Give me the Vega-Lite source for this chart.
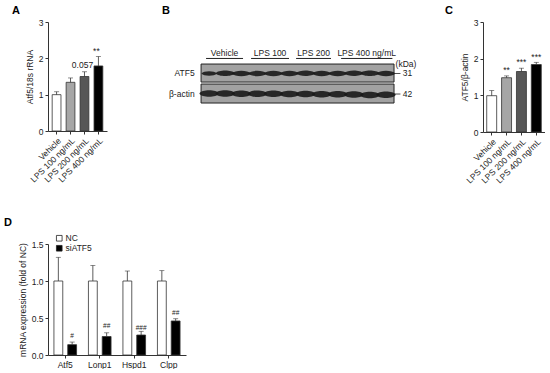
{
  "$schema": "https://vega.github.io/schema/vega-lite/v6.json",
  "padding": {"left": 4, "top": 5, "right": 0, "bottom": 0},
  "config": {
    "font": "Liberation Sans",
    "view": {"stroke": null},
    "axis": {"domainColor": "#333", "tickColor": "#333", "labelColor": "#222", "titleColor": "#222", "labelFontSize": 8.5, "titleFontSize": 8.5, "titleFontWeight": "normal", "grid": false, "tickSize": 3, "labelPadding": 2, "titlePadding": 4},
    "title": {"fontSize": 11, "fontWeight": "bold", "color": "#000", "anchor": "start", "frame": "group"}
  },
  "align": "none",
  "spacing": 32,
  "resolve": {"scale": {"fill": "independent", "size": "independent", "shape": "independent"}, "legend": {"fill": "independent"}},
  "vconcat": [
    {
      "spacing": 5,
      "resolve": {"scale": {"fill": "independent", "size": "independent", "shape": "independent"}, "legend": {"fill": "independent"}},
      "hconcat": [
        {
          "width": 59, "height": 109,
          "title": {"text": "A", "dx": -36, "offset": 2},
          "data": {"values": [
            {"cond": "Vehicle", "v": 1.0, "up": 1.08, "ann": "", "ay": 1.1},
            {"cond": "LPS 100 ng/mL", "v": 1.34, "up": 1.46, "ann": "", "ay": 1.5},
            {"cond": "LPS 200 ng/mL", "v": 1.5, "up": 1.63, "ann": "0.057", "ay": 1.67},
            {"cond": "LPS 400 ng/mL", "v": 1.79, "up": 2.05, "ann": "**", "ay": 2.06}
          ]},
          "encoding": {"x": {"field": "cond", "type": "nominal", "sort": null, "scale": {"paddingInner": 0.37, "paddingOuter": 0.3}, "axis": {"title": null, "labelAngle": -45, "labelFontSize": 8.5}}},
          "layer": [
            {"mark": {"type": "bar", "stroke": "#333", "strokeWidth": 0.8},
             "encoding": {"y": {"field": "v", "type": "quantitative", "title": "Atf5/18s rRNA", "scale": {"domain": [0, 3]}, "axis": {"values": [0, 1, 2, 3]}},
                          "fill": {"field": "cond", "type": "nominal", "scale": {"domain": ["Vehicle", "LPS 100 ng/mL", "LPS 200 ng/mL", "LPS 400 ng/mL"], "range": ["#ffffff", "#a6a6a6", "#575757", "#000000"]}, "legend": null}}},
            {"mark": {"type": "rule", "color": "#333", "strokeWidth": 0.8},
             "encoding": {"y": {"field": "v", "type": "quantitative", "title": "Atf5/18s rRNA", "scale": {"domain": [0, 3]}, "axis": {"values": [0, 1, 2, 3]}}, "y2": {"field": "up"}}},
            {"mark": {"type": "tick", "color": "#333", "size": 5, "thickness": 0.8},
             "encoding": {"y": {"field": "up", "type": "quantitative", "title": "Atf5/18s rRNA", "scale": {"domain": [0, 3]}, "axis": {"values": [0, 1, 2, 3]}}}},
            {"mark": {"type": "text", "baseline": "bottom", "fontSize": 8.5, "color": "#222", "dx": -2},
             "encoding": {"y": {"field": "ay", "type": "quantitative", "title": "Atf5/18s rRNA", "scale": {"domain": [0, 3]}, "axis": {"values": [0, 1, 2, 3]}}, "text": {"field": "ann"}}}
          ]
        },
        {
          "width": 328, "height": 84,
          "title": {"text": "B", "dx": 50, "offset": 6},
          "encoding": {
            "x": {"field": "x", "type": "quantitative", "scale": {"domain": [-5.54, 14.86], "nice": false, "zero": false}, "axis": null},
            "y": {"field": "y", "type": "quantitative", "scale": {"domain": [0, 9.33], "reverse": true, "nice": false, "zero": false}, "axis": null}
          },
          "layer": [
            {"data": {"values": [
              {"x": 0, "x2": 12, "y": 4.67, "y2": 6.67},
              {"x": 0, "x2": 12, "y": 6.89, "y2": 9.0}
            ]},
             "mark": {"type": "rect", "fill": "#a2a2a2", "stroke": "#222", "strokeWidth": 1},
             "encoding": {"x2": {"field": "x2"}, "y2": {"field": "y2"}}},
            {"data": {"values": [
              {"protein": "ATF5", "x": 0.5, "y": 5.72, "s": 0.6},
              {"protein": "ATF5", "x": 1.5, "y": 5.7, "s": 0.95},
              {"protein": "ATF5", "x": 2.5, "y": 5.72, "s": 0.9},
              {"protein": "ATF5", "x": 3.5, "y": 5.72, "s": 0.85},
              {"protein": "ATF5", "x": 4.5, "y": 5.72, "s": 0.88},
              {"protein": "ATF5", "x": 5.5, "y": 5.72, "s": 0.85},
              {"protein": "ATF5", "x": 6.5, "y": 5.7, "s": 0.92},
              {"protein": "ATF5", "x": 7.5, "y": 5.72, "s": 0.85},
              {"protein": "ATF5", "x": 8.5, "y": 5.72, "s": 0.88},
              {"protein": "ATF5", "x": 9.5, "y": 5.7, "s": 0.92},
              {"protein": "ATF5", "x": 10.5, "y": 5.7, "s": 0.95},
              {"protein": "ATF5", "x": 11.5, "y": 5.72, "s": 0.88},
              {"protein": "β-actin", "x": 0.5, "y": 7.95, "s": 0.95},
              {"protein": "β-actin", "x": 1.5, "y": 7.95, "s": 0.98},
              {"protein": "β-actin", "x": 2.5, "y": 7.97, "s": 0.97},
              {"protein": "β-actin", "x": 3.5, "y": 7.97, "s": 0.96},
              {"protein": "β-actin", "x": 4.5, "y": 7.98, "s": 0.97},
              {"protein": "β-actin", "x": 5.5, "y": 8.0, "s": 0.96},
              {"protein": "β-actin", "x": 6.5, "y": 8.0, "s": 0.97},
              {"protein": "β-actin", "x": 7.5, "y": 8.02, "s": 0.96},
              {"protein": "β-actin", "x": 8.5, "y": 8.02, "s": 0.97},
              {"protein": "β-actin", "x": 9.5, "y": 8.05, "s": 0.98},
              {"protein": "β-actin", "x": 10.5, "y": 8.1, "s": 0.98},
              {"protein": "β-actin", "x": 11.5, "y": 8.08, "s": 0.96}
            ]},
             "mark": {"type": "point", "filled": true, "color": "#1a1a1a", "opacity": 0.9},
             "encoding": {
               "size": {"field": "s", "type": "quantitative", "scale": {"domain": [0, 1], "range": [0, 400]}, "legend": null},
               "shape": {"field": "protein", "type": "nominal", "scale": {"domain": ["ATF5", "β-actin"], "range": ["M -1 0 C -0.7 -0.38 0.7 -0.38 1 0 C 0.7 0.38 -0.7 0.38 -1 0 Z", "M -1 0 C -0.8 -0.44 0.8 -0.44 1 0 C 0.8 0.44 -0.8 0.44 -1 0 Z"]}, "legend": null}
             }},
            {"data": {"values": [
              {"x": 0.31, "x2": 2.61, "y": 4.05},
              {"x": 3.11, "x2": 5.47, "y": 4.05},
              {"x": 5.91, "x2": 8.08, "y": 4.05},
              {"x": 8.71, "x2": 11.9, "y": 4.05}
            ]},
             "mark": {"type": "rule", "color": "#222", "strokeWidth": 1},
             "encoding": {"x2": {"field": "x2"}}},
            {"data": {"values": [
              {"x": 1.46, "y": 3.78, "t": "Vehicle"},
              {"x": 4.29, "y": 3.78, "t": "LPS 100"},
              {"x": 7.0, "y": 3.78, "t": "LPS 200"},
              {"x": 10.3, "y": 3.78, "t": "LPS 400 ng/mL"}
            ]},
             "mark": {"type": "text", "baseline": "alphabetic", "align": "center", "fontSize": 8.5, "color": "#222"},
             "encoding": {"text": {"field": "t"}}},
            {"data": {"values": [
              {"x": -0.4, "y": 5.72, "t": "ATF5"},
              {"x": -0.4, "y": 7.95, "t": "β-actin"}
            ]},
             "mark": {"type": "text", "baseline": "middle", "align": "right", "fontSize": 8.5, "color": "#222"},
             "encoding": {"text": {"field": "t"}}},
            {"data": {"values": [
              {"x": 12.05, "x2": 12.4, "y": 5.72},
              {"x": 12.05, "x2": 12.4, "y": 8.0}
            ]},
             "mark": {"type": "rule", "color": "#222", "strokeWidth": 0.8},
             "encoding": {"x2": {"field": "x2"}}},
            {"data": {"values": [
              {"x": 12.55, "y": 5.72, "t": "31"},
              {"x": 12.55, "y": 8.0, "t": "42"},
              {"x": 12.1, "y": 4.62, "t": "(kDa)"}
            ]},
             "mark": {"type": "text", "baseline": "middle", "align": "left", "fontSize": 8.5, "color": "#222"},
             "encoding": {"text": {"field": "t"}}}
          ]
        },
        {
          "width": 62, "height": 110,
          "title": {"text": "C", "dx": -38, "offset": 2},
          "data": {"values": [
            {"cond": "Vehicle", "v": 0.99, "up": 1.13, "ann": "", "ay": 1.15},
            {"cond": "LPS 100 ng/mL", "v": 1.48, "up": 1.53, "ann": "**", "ay": 1.55},
            {"cond": "LPS 200 ng/mL", "v": 1.65, "up": 1.74, "ann": "***", "ay": 1.76},
            {"cond": "LPS 400 ng/mL", "v": 1.84, "up": 1.9, "ann": "***", "ay": 1.92}
          ]},
          "encoding": {"x": {"field": "cond", "type": "nominal", "sort": null, "scale": {"paddingInner": 0.33, "paddingOuter": 0.25}, "axis": {"title": null, "labelAngle": -45, "labelFontSize": 8.5}}},
          "layer": [
            {"mark": {"type": "bar", "stroke": "#333", "strokeWidth": 0.8},
             "encoding": {"y": {"field": "v", "type": "quantitative", "title": "ATF5/β-actin", "scale": {"domain": [0, 3]}, "axis": {"values": [0, 1, 2, 3]}},
                          "fill": {"field": "cond", "type": "nominal", "scale": {"domain": ["Vehicle", "LPS 100 ng/mL", "LPS 200 ng/mL", "LPS 400 ng/mL"], "range": ["#ffffff", "#a6a6a6", "#575757", "#000000"]}, "legend": null}}},
            {"mark": {"type": "rule", "color": "#333", "strokeWidth": 0.8},
             "encoding": {"y": {"field": "v", "type": "quantitative", "title": "ATF5/β-actin", "scale": {"domain": [0, 3]}, "axis": {"values": [0, 1, 2, 3]}}, "y2": {"field": "up"}}},
            {"mark": {"type": "tick", "color": "#333", "size": 5, "thickness": 0.8},
             "encoding": {"y": {"field": "up", "type": "quantitative", "title": "ATF5/β-actin", "scale": {"domain": [0, 3]}, "axis": {"values": [0, 1, 2, 3]}}}},
            {"mark": {"type": "text", "baseline": "bottom", "fontSize": 8.5, "color": "#222"},
             "encoding": {"y": {"field": "ay", "type": "quantitative", "title": "ATF5/β-actin", "scale": {"domain": [0, 3]}, "axis": {"values": [0, 1, 2, 3]}}, "text": {"field": "ann"}}}
          ]
        }
      ]
    },
    {
      "width": 138, "height": 111,
      "title": {"text": "D", "dx": -44, "offset": 6},
      "data": {"values": [
        {"gene": "Atf5", "grp": "NC", "v": 1.0, "up": 1.32, "ann": "", "ay": 1.35},
        {"gene": "Atf5", "grp": "siATF5", "v": 0.14, "up": 0.175, "ann": "#", "ay": 0.22},
        {"gene": "Lonp1", "grp": "NC", "v": 1.0, "up": 1.21, "ann": "", "ay": 1.25},
        {"gene": "Lonp1", "grp": "siATF5", "v": 0.25, "up": 0.3, "ann": "##", "ay": 0.35},
        {"gene": "Hspd1", "grp": "NC", "v": 1.0, "up": 1.135, "ann": "", "ay": 1.15},
        {"gene": "Hspd1", "grp": "siATF5", "v": 0.27, "up": 0.32, "ann": "###", "ay": 0.33},
        {"gene": "Clpp", "grp": "NC", "v": 1.0, "up": 1.14, "ann": "", "ay": 1.15},
        {"gene": "Clpp", "grp": "siATF5", "v": 0.46, "up": 0.49, "ann": "##", "ay": 0.53}
      ]},
      "encoding": {
        "x": {"field": "gene", "type": "nominal", "sort": null, "scale": {"paddingInner": 0, "paddingOuter": 0}, "axis": {"title": null, "labelAngle": 0, "labelFontSize": 8.5}},
        "xOffset": {"field": "grp", "type": "nominal", "scale": {"domain": ["NC", "siATF5"], "paddingInner": 0.36, "paddingOuter": 0.43}}
      },
      "layer": [
        {"mark": {"type": "bar", "stroke": "#333", "strokeWidth": 0.8},
         "encoding": {"y": {"field": "v", "type": "quantitative", "title": "mRNA expression (fold of NC)", "scale": {"domain": [0, 1.5]}, "axis": {"values": [0, 0.5, 1, 1.5], "format": ".1f"}},
                      "fill": {"field": "grp", "type": "nominal", "scale": {"domain": ["NC", "siATF5"], "range": ["#ffffff", "#000000"]},
                               "legend": {"title": null, "orient": "none", "legendX": 7, "legendY": -10, "symbolType": "square", "symbolSize": 32, "symbolStrokeColor": "#222", "symbolStrokeWidth": 0.8, "labelFontSize": 8.5, "labelColor": "#222", "rowPadding": 0, "labelOffset": 2, "padding": 0}}}},
        {"mark": {"type": "rule", "color": "#333", "strokeWidth": 0.8},
         "encoding": {"y": {"field": "v", "type": "quantitative", "title": "mRNA expression (fold of NC)", "scale": {"domain": [0, 1.5]}, "axis": {"values": [0, 0.5, 1, 1.5], "format": ".1f"}}, "y2": {"field": "up"}}},
        {"mark": {"type": "tick", "color": "#333", "size": 5, "thickness": 0.8},
         "encoding": {"y": {"field": "up", "type": "quantitative", "title": "mRNA expression (fold of NC)", "scale": {"domain": [0, 1.5]}, "axis": {"values": [0, 0.5, 1, 1.5], "format": ".1f"}}}},
        {"mark": {"type": "text", "baseline": "bottom", "fontSize": 6.5, "color": "#222"},
         "encoding": {"y": {"field": "ay", "type": "quantitative", "title": "mRNA expression (fold of NC)", "scale": {"domain": [0, 1.5]}, "axis": {"values": [0, 0.5, 1, 1.5], "format": ".1f"}}, "text": {"field": "ann"}}}
      ]
    }
  ]
}
